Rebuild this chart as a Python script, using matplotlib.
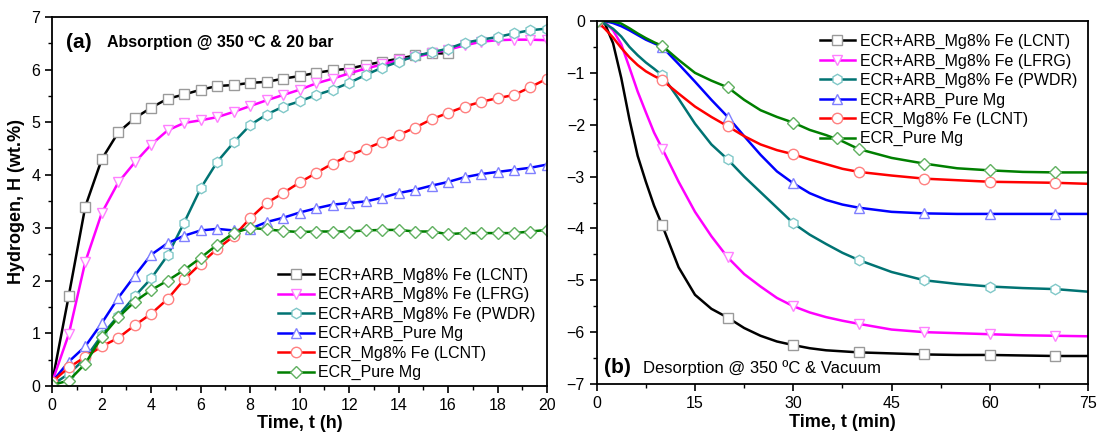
"""Hydrogen absorption / desorption kinetics, two panels side by side."""
import numpy as np
import matplotlib
matplotlib.use("Agg")
import matplotlib.pyplot as plt
from matplotlib.ticker import MultipleLocator

plt.rcParams["font.family"] = ["Liberation Sans", "DejaVu Sans"]

LABELS = ["ECR+ARB_Mg8% Fe (LCNT)", "ECR+ARB_Mg8% Fe (LFRG)", "ECR+ARB_Mg8% Fe (PWDR)",
          "ECR+ARB_Pure Mg", "ECR_Mg8% Fe (LCNT)", "ECR_Pure Mg"]

# --- (a) absorption, read every 40 min (markers) ---
t_abs = [k * 2 / 3 for k in range(31)]
abs_lcnt = [0.08, 1.71, 3.4, 4.3, 4.81, 5.08, 5.28, 5.45, 5.53, 5.62, 5.69, 5.71, 5.75, 5.77,
            5.83, 5.88, 5.94, 5.99, 6.02, 6.09, 6.15, 6.21, 6.27, 6.31, 6.31,
            np.nan, np.nan, np.nan, np.nan, np.nan, np.nan]
abs_lfrg = [0.08, 0.98, 2.35, 3.28, 3.86, 4.24, 4.58, 4.85, 4.99, 5.04, 5.1, 5.2, 5.31, 5.42,
            5.52, 5.62, 5.74, 5.83, 5.93, 6.02, 6.1, 6.18, 6.24, 6.31, 6.38, 6.46, 6.53, 6.56,
            6.57, 6.57, 6.56]
abs_pwdr = [0.02, 0.23, 0.52, 0.96, 1.33, 1.7, 2.04, 2.48, 3.1, 3.75, 4.25, 4.62, 4.95, 5.15,
            5.3, 5.4, 5.52, 5.62, 5.75, 5.9, 6.04, 6.15, 6.26, 6.33, 6.4, 6.51, 6.57, 6.62,
            6.69, 6.75, 6.78]
abs_pure_arb = [0.08, 0.46, 0.75, 1.19, 1.67, 2.09, 2.49, 2.71, 2.85, 2.95, 2.98, 2.95, 2.98,
                3.11, 3.19, 3.29, 3.37, 3.44, 3.47, 3.5, 3.57, 3.66, 3.72, 3.8, 3.87, 3.96,
                4.02, 4.06, 4.1, 4.14, 4.2]
abs_ecr_lcnt = [0.08, 0.35, 0.55, 0.75, 0.91, 1.15, 1.37, 1.65, 2.02, 2.32, 2.6, 2.84, 3.18,
                3.47, 3.66, 3.86, 4.04, 4.22, 4.37, 4.5, 4.63, 4.76, 4.9, 5.06, 5.18, 5.3,
                5.39, 5.46, 5.52, 5.67, 5.83]
abs_ecr_pure = [0.02, 0.1, 0.42, 0.93, 1.3, 1.6, 1.82, 2.0, 2.2, 2.43, 2.68, 2.9, 3.0, 2.97,
                2.94, 2.92, 2.93, 2.93, 2.93, 2.95, 2.96, 2.96, 2.93, 2.93, 2.88, 2.9, 2.9,
                2.9, 2.9, 2.93, 2.96]

# --- (b) desorption ---
t_des = [0, 1.25, 2.5, 3.75, 5, 6.25, 7.5, 8.75, 10, 12.5, 15, 17.5, 20, 22.5, 25, 27.5, 30,
         32.5, 35, 37.5, 40, 45, 50, 55, 60, 65, 70, 75]
des_lcnt = [0, -0.05, -0.43, -1.1, -1.9, -2.6, -3.1, -3.56, -3.94, -4.75, -5.28, -5.55, -5.72,
            -5.92, -6.07, -6.18, -6.25, -6.31, -6.35, -6.37, -6.39, -6.41, -6.43, -6.44,
            -6.44, -6.45, -6.46, -6.46]
des_lfrg = [0, -0.02, -0.18, -0.45, -0.9, -1.36, -1.76, -2.15, -2.46, -3.1, -3.68, -4.15,
            -4.56, -4.88, -5.12, -5.34, -5.5, -5.62, -5.71, -5.78, -5.84, -5.95, -6.0, -6.02,
            -6.04, -6.06, -6.07, -6.08]
des_pwdr = [0, -0.05, -0.15, -0.3, -0.5, -0.66, -0.8, -0.92, -1.05, -1.5, -1.98, -2.38, -2.67,
            -3.0, -3.3, -3.6, -3.9, -4.12, -4.3, -4.47, -4.61, -4.84, -5.0, -5.07, -5.12,
            -5.15, -5.17, -5.22]
des_pure_arb = [0, 0, -0.04, -0.1, -0.18, -0.27, -0.36, -0.43, -0.5, -0.83, -1.17, -1.52,
                -1.85, -2.22, -2.58, -2.9, -3.13, -3.32, -3.45, -3.54, -3.6, -3.68, -3.71,
                -3.72, -3.72, -3.72, -3.72, -3.72]
des_ecr_lcnt = [0, -0.15, -0.32, -0.52, -0.7, -0.85, -0.97, -1.06, -1.14, -1.4, -1.65, -1.85,
                -2.03, -2.22, -2.38, -2.49, -2.57, -2.67, -2.76, -2.85, -2.91, -2.98, -3.04,
                -3.07, -3.1, -3.11, -3.12, -3.14]
des_ecr_pure = [0, 0, -0.01, -0.05, -0.14, -0.24, -0.33, -0.41, -0.48, -0.75, -1.0, -1.15,
                -1.28, -1.52, -1.72, -1.85, -1.96, -2.1, -2.2, -2.32, -2.47, -2.64, -2.75,
                -2.84, -2.88, -2.91, -2.92, -2.92]

STYLE = [("#000000", "#9a9a9a", "s", 6.5),
         ("#ff00ff", "#ff80ff", "v", 7.5),
         ("#007373", "#80c8c8", "h", 7.5),
         ("#0000ff", "#8080ff", "^", 7.5),
         ("#ff0000", "#ff8080", "o", 7.5),
         ("#007f00", "#60b060", "D", 6)]

abs_series = [abs_lcnt, abs_lfrg, abs_pwdr, abs_pure_arb, abs_ecr_lcnt, abs_ecr_pure]
des_series = [des_lcnt, des_lfrg, des_pwdr, des_pure_arb, des_ecr_lcnt, des_ecr_pure]

fig = plt.figure(figsize=(11.05, 4.34), dpi=100)
ax1 = fig.add_axes([0.0473, 0.1108, 0.4477, 0.850])
ax2 = fig.add_axes([0.540, 0.1152, 0.4448, 0.8364])

for ys, lab, (c, mc, m, ms) in zip(abs_series, LABELS, STYLE):
    ax1.plot(t_abs, ys, color=c, lw=1.8, marker=m, ms=ms, mfc="white", mec=mc,
             mew=1.0, label=lab)

mark_idx = [i for i, t in enumerate(t_des) if t % 10 == 0]
for ys, lab, (c, mc, m, ms) in zip(des_series, LABELS, STYLE):
    ax2.plot(t_des, ys, color=c, lw=1.8, marker=m, ms=ms, mfc="white", mec=mc,
             mew=1.0, markevery=mark_idx, label=lab)

ax1.set_xlim(0, 20)
ax1.set_ylim(0, 7)
ax1.xaxis.set_major_locator(MultipleLocator(2))
ax1.xaxis.set_minor_locator(MultipleLocator(1))
ax1.yaxis.set_major_locator(MultipleLocator(1))
ax1.yaxis.set_minor_locator(MultipleLocator(0.5))
ax1.set_xlabel("Time, t (h)", fontsize=13, fontweight="bold", labelpad=2)
ax1.set_ylabel("Hydrogen, H (wt.%)", fontsize=13, fontweight="bold", labelpad=5)

ax2.set_xlim(0, 75)
ax2.set_ylim(-7, 0)
ax2.xaxis.set_major_locator(MultipleLocator(15))
ax2.xaxis.set_minor_locator(MultipleLocator(7.5))
ax2.yaxis.set_major_locator(MultipleLocator(1))
ax2.yaxis.set_minor_locator(MultipleLocator(0.5))
ax2.set_xlabel("Time, t (min)", fontsize=13, fontweight="bold", labelpad=2)

for ax in (ax1, ax2):
    ax.tick_params(which="major", direction="out", length=5, width=1.2, labelsize=11.5)
    ax.tick_params(which="minor", direction="out", length=3, width=1.0)
    for sp in ax.spines.values():
        sp.set_linewidth(1.3)

ax1.text(0.028, 0.93, "(a)", transform=ax1.transAxes, fontsize=15, fontweight="bold",
         va="center")
ax1.text(0.11, 0.93, "Absorption @ 350 ºC & 20 bar", transform=ax1.transAxes,
         fontsize=11.5, fontweight="bold", va="center")
ax2.text(0.015, 0.045, "(b)", transform=ax2.transAxes, fontsize=15, fontweight="bold",
         va="center")
ax2.text(0.095, 0.045, "Desorption @ 350 ºC & Vacuum", transform=ax2.transAxes,
         fontsize=12, va="center")

leg_kw = dict(frameon=False, fontsize=11.5, handlelength=2.2, handletextpad=0.3,
              labelspacing=0.27, borderaxespad=0.3, numpoints=1)
ax1.legend(loc="lower right", bbox_to_anchor=(1.0, -0.015), **leg_kw)
ax2.legend(loc="upper right", bbox_to_anchor=(1.0, 0.995), **leg_kw)

fig.savefig("out.png", dpi=100)
